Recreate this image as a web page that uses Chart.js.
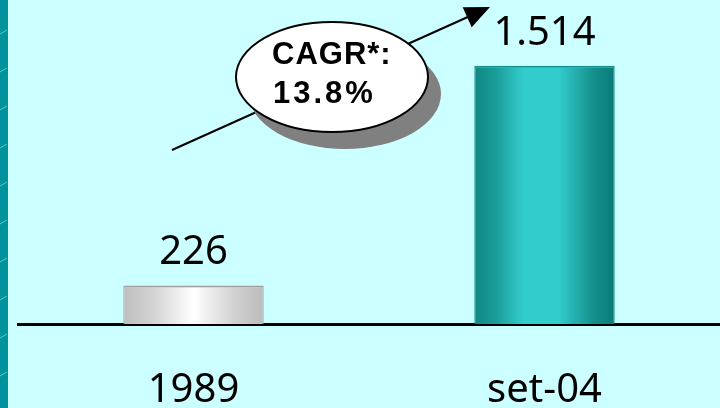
<!DOCTYPE html>
<html>
<head>
<meta charset="utf-8">
<script src="https://cdn.jsdelivr.net/npm/chart.js@4"></script>
<style>
html, body { margin: 0; padding: 0; background: #CCFFFF; }
#wrap { width: 720px; height: 408px; position: relative; }
</style>
</head>
<body>
<div id="wrap"><canvas id="chart"></canvas></div>
<script>
// data
const categories = ['1989', 'set-04'];
const values = [226, 1514];
const yMax = 1900;
const cagrLines = ['CAGR*:', '13.8%'];

const BAR_SHARE = 0.4;

// thousands with a dot, like 1.514
function fmt(v) {
	return String(v).replace(/\B(?=(\d{3})+(?!\d))/g, '.');
}

// horizontal "cylinder" shading, one palette per bar
const barStops = [
	[[0, '#BEBEBE'], [0.2, '#D2D2D2'], [0.5, '#FFFFFF'], [0.8, '#D0D0D0'], [1, '#BBBBBB']],
	[[0, '#0E8784'], [0.15, '#1A9C99'], [0.35, '#33CCCC'], [0.6, '#33CCCC'], [0.85, '#14908D'], [1, '#0A7A78']]
];
const barEdges = ['#A0A0A0', '#168F8C'];

function barFill(ctx) {
	const chart = ctx.chart;
	const area = chart.chartArea;
	if (!area) return '#33CCCC';
	const x = chart.scales.x.getPixelForValue(ctx.dataIndex);
	const half = (area.right - area.left) / categories.length * BAR_SHARE / 2;
	const g = chart.ctx.createLinearGradient(x - half, 0, x + half, 0);
	barStops[ctx.dataIndex].forEach(s => g.addColorStop(s[0], s[1]));
	return g;
}

// background + the teal strip on the left
const backdrop = {
	id: 'backdrop',
	beforeDraw(chart) {
		const c = chart.ctx;
		c.save();
		c.fillStyle = '#CCFFFF';
		c.fillRect(0, 0, chart.width, chart.height);
		c.fillStyle = '#00939D';
		c.fillRect(0, 0, 8, chart.height);
		c.strokeStyle = 'rgba(200,255,255,0.45)';
		c.lineWidth = 1;
		for (let y = 30; y < chart.height; y += 38) {
			c.beginPath();
			c.moveTo(0, y + 4);
			c.lineTo(7, y);
			c.stroke();
		}
		c.restore();
	}
};

// numbers above the bars
const valueLabels = {
	id: 'valueLabels',
	afterDatasetsDraw(chart) {
		const c = chart.ctx;
		const meta = chart.getDatasetMeta(0);
		c.save();
		c.font = '40px "Noto Sans"';
		c.fillStyle = '#000';
		c.textAlign = 'center';
		c.textBaseline = 'alphabetic';
		meta.data.forEach((bar, i) => {
			c.fillText(fmt(values[i]), bar.x, bar.y - 21);
		});
		c.restore();
	}
};

// CAGR bubble with the growth arrow
const cagrNote = {
	id: 'cagrNote',
	afterDraw(chart) {
		const c = chart.ctx;
		const a = chart.chartArea;
		const x0 = a.left + 154, y0 = a.top + 150;
		const x1 = a.left + 472, y1 = a.top + 7;
		const ang = Math.atan2(y1 - y0, x1 - x0);
		c.save();
		c.strokeStyle = '#000';
		c.lineWidth = 2;
		c.beginPath();
		c.moveTo(x0, y0);
		c.lineTo(x1 - 14 * Math.cos(ang), y1 - 14 * Math.sin(ang));
		c.stroke();
		c.fillStyle = '#000';
		c.beginPath();
		c.moveTo(x1, y1);
		c.lineTo(x1 - 25 * Math.cos(ang) + 11 * Math.sin(ang), y1 - 25 * Math.sin(ang) - 11 * Math.cos(ang));
		c.lineTo(x1 - 25 * Math.cos(ang) - 11 * Math.sin(ang), y1 - 25 * Math.sin(ang) + 11 * Math.cos(ang));
		c.closePath();
		c.fill();

		const cx = a.left + 314, cy = a.top + 77;
		c.fillStyle = '#808080';
		c.beginPath();
		c.ellipse(cx + 13, cy + 17, 96, 55, 0, 0, Math.PI * 2);
		c.fill();
		c.fillStyle = '#FFFFFF';
		c.beginPath();
		c.ellipse(cx, cy, 96, 55, 0, 0, Math.PI * 2);
		c.fill();
		c.stroke();

		c.fillStyle = '#000';
		c.font = 'bold 31px "Liberation Sans"';
		c.textAlign = 'left';
		c.textBaseline = 'alphabetic';
		c.letterSpacing = '1px';
		c.fillText(cagrLines[0], cx - 60, cy - 13);
		c.letterSpacing = '3px';
		c.fillText(cagrLines[1], cx - 59, cy + 26);
		c.restore();
	}
};

new Chart(document.getElementById('chart'), {
	type: 'bar',
	data: {
		labels: categories,
		datasets: [{
			data: values,
			backgroundColor: barFill,
			borderColor: barEdges,
			borderWidth: { top: 2, left: 1, right: 1, bottom: 0 },
			borderSkipped: 'bottom',
			categoryPercentage: 1,
			barPercentage: BAR_SHARE
		}]
	},
	options: {
		responsive: true,
		maintainAspectRatio: false,
		animation: false,
		layout: { padding: { left: 18, right: 0, top: 0, bottom: -50 } },
		plugins: {
			legend: { display: false },
			tooltip: { enabled: false }
		},
		scales: {
			x: {
				grid: { display: false, drawTicks: false },
				border: { display: true, color: '#000', width: 3 },
				ticks: {
					color: '#000',
					padding: 43,
					font: { family: 'Noto Sans', size: 40 }
				}
			},
			y: {
				display: false,
				min: 0,
				max: yMax
			}
		}
	},
	plugins: [backdrop, valueLabels, cagrNote]
});
</script>
</body>
</html>
